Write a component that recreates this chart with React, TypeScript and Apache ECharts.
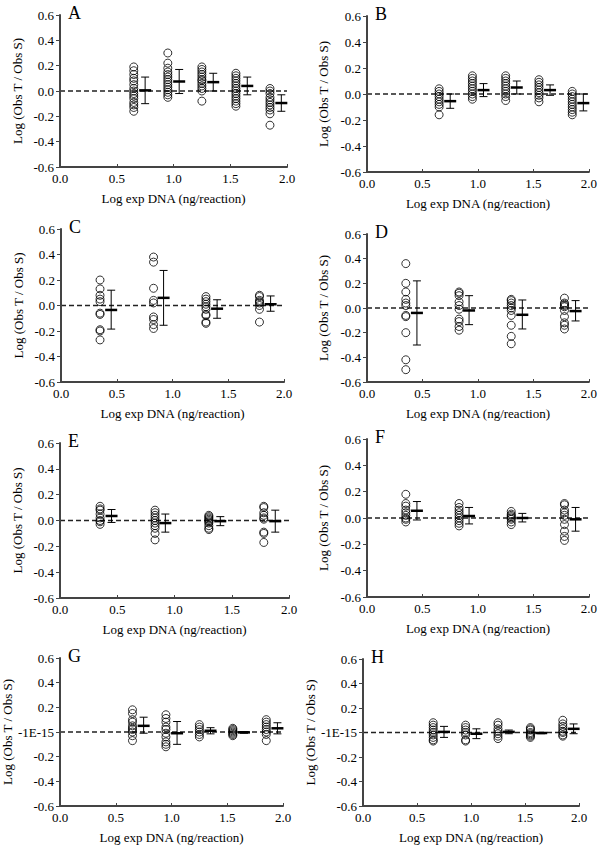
import React, { useEffect, useRef } from "react";
import * as echarts from "echarts";

const FONT = "Liberation Serif";

const panelLetters = ["A", "B", "C", "D", "E", "F", "G", "H"];
const xTickValues = [0.0, 0.5, 1.0, 1.5, 2.0];
const yTickValues = [-0.6, -0.4, -0.2, 0.0, 0.2, 0.4, 0.6];

const xGroups2fold = [0.65, 0.95, 1.25, 1.55, 1.85];
const xMeans2fold = [0.75, 1.05, 1.35, 1.65, 1.95];
const xGroups3fold = [0.35, 0.83, 1.3, 1.78];
const xMeans3fold = [0.45, 0.92, 1.4, 1.88];

// Panel A
const ptsA = [
  [0.19, 0.16, 0.13, 0.1, 0.08, 0.05, 0.02, 0.0, -0.02, -0.04, -0.06, -0.09, -0.11, -0.13, -0.16],
  [0.3, 0.22, 0.18, 0.15, 0.13, 0.11, 0.09, 0.07, 0.05, 0.03, 0.01, -0.01, -0.03, -0.05],
  [0.19, 0.17, 0.15, 0.13, 0.11, 0.09, 0.08, 0.06, 0.04, 0.02, 0.0, -0.08],
  [0.14, 0.12, 0.1, 0.08, 0.06, 0.04, 0.02, 0.0, -0.02, -0.04, -0.06, -0.08, -0.1, -0.12],
  [0.02, 0.0, -0.02, -0.05, -0.07, -0.09, -0.11, -0.13, -0.15, -0.18, -0.27],
];
const meanA = [0.005, 0.075, 0.07, 0.04, -0.095];
const hiA = [0.11, 0.17, 0.14, 0.11, -0.03];
const loA = [-0.1, -0.02, 0.0, -0.03, -0.16];

// Panel B
const ptsB = [
  [0.04, 0.02, 0.0, -0.02, -0.04, -0.06, -0.08, -0.1, -0.16],
  [0.14, 0.12, 0.1, 0.08, 0.06, 0.04, 0.02, 0.0, -0.02, -0.04],
  [0.14, 0.12, 0.1, 0.08, 0.06, 0.04, 0.02, 0.0, -0.02, -0.05],
  [0.11, 0.09, 0.07, 0.05, 0.03, 0.01, -0.01, -0.03, -0.06],
  [0.02, 0.0, -0.02, -0.04, -0.06, -0.08, -0.1, -0.12, -0.14, -0.16],
];
const meanB = [-0.055, 0.03, 0.05, 0.03, -0.07];
const hiB = [0.0, 0.08, 0.1, 0.07, 0.0];
const loB = [-0.11, -0.02, 0.0, -0.01, -0.13];

// Panel C
const ptsC = [
  [0.2, 0.13, 0.08, 0.05, 0.03, -0.06, -0.07, -0.19, -0.2, -0.27],
  [0.38, 0.34, 0.135, 0.04, 0.02, -0.09, -0.11, -0.15, -0.18],
  [0.07, 0.05, 0.03, 0.01, -0.01, -0.03, -0.07, -0.08, -0.13, -0.14],
  [0.08, 0.07, 0.04, 0.03, 0.02, 0.0, -0.03, -0.13],
];
const meanC = [-0.035, 0.06, -0.025, 0.01];
const hiC = [0.12, 0.275, 0.045, 0.075];
const loC = [-0.185, -0.155, -0.1, -0.045];

// Panel D
const ptsD = [
  [0.36, 0.2, 0.13, 0.07, 0.04, 0.02, -0.06, -0.07, -0.2, -0.42, -0.5],
  [0.13, 0.12, 0.1, 0.05, 0.02, -0.01, -0.09, -0.11, -0.15, -0.18],
  [0.07, 0.06, 0.04, 0.02, 0.0, -0.02, -0.06, -0.14, -0.23, -0.29],
  [0.08, 0.04, 0.03, 0.02, 0.01, -0.02, -0.07, -0.12, -0.14, -0.17],
];
const meanD = [-0.04, -0.02, -0.055, -0.025];
const hiD = [0.22, 0.1, 0.065, 0.06];
const loD = [-0.3, -0.135, -0.17, -0.105];

// Panel E
const ptsE = [
  [0.11, 0.09, 0.08, 0.05, 0.02, 0.0, -0.01, -0.03],
  [0.08, 0.06, 0.04, 0.02, 0.0, -0.02, -0.04, -0.06, -0.1, -0.15],
  [0.04, 0.03, 0.02, 0.01, 0.0, -0.01, -0.02, -0.04, -0.06, -0.07],
  [0.11, 0.1, 0.06, 0.04, 0.02, 0.01, -0.09, -0.1, -0.17],
];
const meanE = [0.035, -0.02, -0.005, -0.005];
const hiE = [0.085, 0.05, 0.03, 0.08];
const loE = [-0.015, -0.09, -0.04, -0.09];

// Panel F
const ptsF = [
  [0.18, 0.11, 0.09, 0.06, 0.04, 0.02, 0.0, -0.01, -0.03],
  [0.11, 0.08, 0.06, 0.04, 0.02, 0.0, -0.02, -0.04, -0.06],
  [0.05, 0.03, 0.02, 0.01, 0.0, -0.01, -0.03, -0.05],
  [0.11, 0.1, 0.06, 0.04, 0.02, -0.01, -0.05, -0.1, -0.14, -0.17],
];
const meanF = [0.055, 0.015, 0.0, -0.01];
const hiF = [0.125, 0.08, 0.035, 0.08];
const loF = [-0.015, -0.045, -0.03, -0.1];

// Panel G
const ptsG = [
  [0.18, 0.15, 0.1, 0.08, 0.05, 0.03, 0.02, 0.0, -0.03, -0.07],
  [0.14, 0.11, 0.08, 0.04, 0.02, -0.01, -0.04, -0.08, -0.1, -0.12],
  [0.06, 0.04, 0.02, 0.0, -0.02, -0.04],
  [0.03, 0.02, 0.01, 0.0, -0.01, -0.02, -0.03],
  [0.1, 0.08, 0.06, 0.04, 0.02, 0.0, -0.02, -0.07],
];
const meanG = [0.05, -0.01, 0.01, -0.003, 0.03];
const hiG = [0.12, 0.085, 0.035, 0.004, 0.075];
const loG = [-0.01, -0.1, -0.015, -0.01, -0.015];

// Panel H
const ptsH = [
  [0.08, 0.06, 0.04, 0.02, 0.0, -0.02, -0.04, -0.06, -0.07],
  [0.06, 0.04, 0.02, 0.0, -0.02, -0.06, -0.07],
  [0.08, 0.06, 0.03, 0.01, -0.01, -0.03, -0.05],
  [0.04, 0.03, 0.02, 0.0, -0.01, -0.02, -0.03, -0.04],
  [0.1, 0.07, 0.05, 0.03, 0.01, 0.0, -0.02, -0.03],
];
const meanH = [0.005, -0.01, 0.005, -0.004, 0.03];
const hiH = [0.05, 0.03, 0.02, 0.0, 0.07];
const loH = [-0.04, -0.05, -0.01, -0.01, -0.01];

const panels = [
  { xs: xGroups2fold, mx: xMeans2fold, pts: ptsA, mean: meanA, hi: hiA, lo: loA, zero: "0.0" },
  { xs: xGroups2fold, mx: xMeans2fold, pts: ptsB, mean: meanB, hi: hiB, lo: loB, zero: "0.0" },
  { xs: xGroups3fold, mx: xMeans3fold, pts: ptsC, mean: meanC, hi: hiC, lo: loC, zero: "0.0" },
  { xs: xGroups3fold, mx: xMeans3fold, pts: ptsD, mean: meanD, hi: hiD, lo: loD, zero: "0.0" },
  { xs: xGroups3fold, mx: xMeans3fold, pts: ptsE, mean: meanE, hi: hiE, lo: loE, zero: "0.0" },
  { xs: xGroups3fold, mx: xMeans3fold, pts: ptsF, mean: meanF, hi: hiF, lo: loF, zero: "0.0" },
  { xs: xGroups2fold, mx: xMeans2fold, pts: ptsG, mean: meanG, hi: hiG, lo: loG, zero: "-1E-15" },
  { xs: xGroups2fold, mx: xMeans2fold, pts: ptsH, mean: meanH, hi: hiH, lo: loH, zero: "-1E-15" },
];

// layout (pixel boxes of each plotting area)
const boxes = [
  { left: 60, top: 15, width: 227, height: 152, yGap: 36 },
  { left: 367, top: 16, width: 224, height: 156, yGap: 37 },
  { left: 61, top: 229, width: 223, height: 153, yGap: 36 },
  { left: 367, top: 234, width: 224, height: 148, yGap: 37 },
  { left: 60, top: 443, width: 229, height: 155, yGap: 36 },
  { left: 367, top: 439, width: 224, height: 158, yGap: 37 },
  { left: 60, top: 658, width: 223, height: 150, yGap: 46 },
  { left: 363, top: 659, width: 216, height: 147, yGap: 43 },
];

const AXIS_COLOR = "#444";

export default function App() {
  const ref = useRef<HTMLDivElement>(null);

  useEffect(() => {
    if (!ref.current) return;
    const chart = echarts.init(ref.current, null, { renderer: "svg" });

    const grid: any[] = [];
    const xAxis: any[] = [];
    const yAxis: any[] = [];
    const series: any[] = [];
    const graphic: any[] = [];

    panels.forEach((p, i) => {
      const b = boxes[i];
      grid.push({ left: b.left, top: b.top, width: b.width, height: b.height });
      xAxis.push({
        gridIndex: i,
        type: "value",
        min: xTickValues[0],
        max: xTickValues[xTickValues.length - 1],
        interval: 0.5,
        name: "Log exp DNA (ng/reaction)",
        nameLocation: "middle",
        nameGap: 25,
        nameTextStyle: { fontFamily: FONT, fontSize: 13, color: "#000" },
        axisLine: { show: true, onZero: false, lineStyle: { color: AXIS_COLOR, width: 2 } },
        axisTick: { show: true, inside: true, length: 3, lineStyle: { color: AXIS_COLOR, width: 1 } },
        splitLine: { show: false },
        axisLabel: {
          fontFamily: FONT,
          fontSize: 13,
          color: "#000",
          margin: 5,
          formatter: (v: number) => v.toFixed(1),
        },
      });
      yAxis.push({
        gridIndex: i,
        type: "value",
        min: yTickValues[0],
        max: yTickValues[yTickValues.length - 1],
        interval: 0.2,
        name: "Log (Obs T / Obs S)",
        nameLocation: "middle",
        nameRotate: 90,
        nameGap: b.yGap,
        nameTextStyle: { fontFamily: FONT, fontSize: 13, color: "#000" },
        axisLine: { show: true, onZero: false, lineStyle: { color: AXIS_COLOR, width: 2 } },
        axisTick: { show: true, inside: false, length: 4, lineStyle: { color: AXIS_COLOR, width: 1 } },
        splitLine: { show: false },
        axisLabel: {
          fontFamily: FONT,
          fontSize: 13,
          color: "#000",
          margin: 6,
          formatter: (v: number) => (Math.abs(v) < 1e-9 ? p.zero : v.toFixed(1)),
        },
      });

      const scatterData: number[][] = [];
      p.pts.forEach((grp, g) => {
        grp.forEach((v) => scatterData.push([p.xs[g], v]));
      });
      series.push({
        type: "line",
        xAxisIndex: i,
        yAxisIndex: i,
        data: [
          [xTickValues[0], 0],
          [xTickValues[xTickValues.length - 1], 0],
        ],
        showSymbol: false,
        symbol: "none",
        silent: true,
        z: 2,
        lineStyle: { type: [5, 3], color: "#222", width: 1.3 },
      });
      series.push({
        type: "scatter",
        xAxisIndex: i,
        yAxisIndex: i,
        data: scatterData,
        symbol: "circle",
        symbolSize: 8,
        itemStyle: { color: "rgba(0,0,0,0)", borderColor: "#000", borderWidth: 1 },
        silent: true,
        z: 3,
        markLine: {
          silent: true,
          symbol: ["none", "none"],
          label: { show: false },
          lineStyle: { type: "solid", color: AXIS_COLOR, width: 2 },
          data: [{ xAxis: xTickValues[0] }, { yAxis: yTickValues[0] }],
        },
      });

      const ebData = p.mx.map((x, g) => [x, p.mean[g], p.hi[g], p.lo[g]]);
      series.push({
        type: "custom",
        xAxisIndex: i,
        yAxisIndex: i,
        data: ebData,
        encode: { x: 0, y: [1, 2, 3] },
        silent: true,
        z: 4,
        renderItem: (params: any, api: any) => {
          const x = api.value(0);
          const pm = api.coord([x, api.value(1)]);
          const ph = api.coord([x, api.value(2)]);
          const pl = api.coord([x, api.value(3)]);
          const thin = { stroke: "#000", lineWidth: 1 };
          return {
            type: "group",
            children: [
              { type: "line", shape: { x1: ph[0], y1: ph[1], x2: pl[0], y2: pl[1] }, style: thin },
              { type: "line", shape: { x1: ph[0] - 4, y1: ph[1], x2: ph[0] + 4, y2: ph[1] }, style: thin },
              { type: "line", shape: { x1: pl[0] - 4, y1: pl[1], x2: pl[0] + 4, y2: pl[1] }, style: thin },
              {
                type: "line",
                shape: { x1: pm[0] - 6, y1: pm[1], x2: pm[0] + 6, y2: pm[1] },
                style: { stroke: "#000", lineWidth: 2.5 },
              },
            ],
          };
        },
      });

      graphic.push({
        type: "text",
        left: b.left + 8,
        top: b.top - 11,
        style: { text: panelLetters[i], fontFamily: FONT, fontSize: 18, fill: "#000" },
      });
    });

    chart.setOption({
      animation: false,
      backgroundColor: "#fff",
      textStyle: { fontFamily: FONT },
      grid,
      xAxis,
      yAxis,
      series,
      graphic,
    });

    return () => chart.dispose();
  }, []);

  return <div ref={ref} style={{ width: 600, height: 845, position: "absolute", left: 0, top: 0 }} />;
}
